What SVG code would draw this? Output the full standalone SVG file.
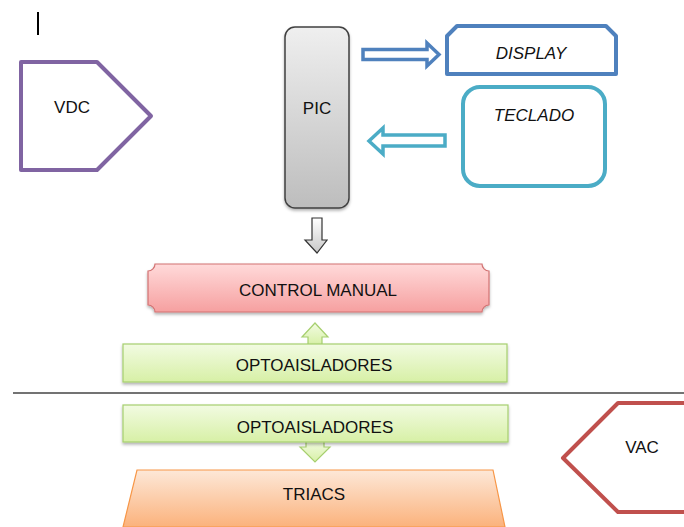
<svg xmlns="http://www.w3.org/2000/svg" width="684" height="527" viewBox="0 0 684 527">
<defs>
<linearGradient id="gPic" x1="0" y1="0" x2="0" y2="1"><stop offset="0" stop-color="#efefef"/><stop offset="1" stop-color="#bdbdbd"/></linearGradient>
<linearGradient id="gGray" x1="0" y1="0" x2="0" y2="1"><stop offset="0" stop-color="#ffffff"/><stop offset="1" stop-color="#c8c8c8"/></linearGradient>
<linearGradient id="gPink" x1="0" y1="0" x2="0" y2="1"><stop offset="0" stop-color="#ffdada"/><stop offset="1" stop-color="#f6a0a0"/></linearGradient>
<linearGradient id="gGreen" x1="0" y1="0" x2="0" y2="1"><stop offset="0" stop-color="#f2fbe2"/><stop offset="1" stop-color="#d7f0a6"/></linearGradient>
<linearGradient id="gOrange" x1="0" y1="0" x2="0" y2="1"><stop offset="0" stop-color="#fde8d8"/><stop offset="1" stop-color="#fbb27c"/></linearGradient>
<filter id="sh" x="-10%" y="-20%" width="120%" height="150%"><feDropShadow dx="0" dy="2" stdDeviation="1.5" flood-color="#000" flood-opacity="0.3"/></filter>
</defs>
<style>
text{font-family:"Liberation Sans",Arial,sans-serif;font-size:17px;fill:#111;text-anchor:middle}
.it{font-style:italic}
.green{fill:url(#gGreen);stroke:#a6cf6e;stroke-width:1.2}
</style>
<rect width="684" height="527" fill="#fff"/>
<line x1="38" y1="12" x2="38" y2="35" stroke="#000" stroke-width="2"/>
<line x1="13" y1="393" x2="684" y2="393" stroke="#444" stroke-width="1.5"/>

<g id="connectors">
<path d="M363,49.5 H427 V43 L439,54.5 L427,66 V59.5 H363 Z" fill="#fff" stroke="#4f81bd" stroke-width="3.5" stroke-linejoin="miter"/>
<path d="M445,135 H383 V128 L369,141 L383,154 V146 H445 Z" fill="#fff" stroke="#4bacc6" stroke-width="3.5"/>
<path d="M312,218 H322 V240 H327 L317,253 L305,240 H312 Z" fill="url(#gGray)" stroke="#333" stroke-width="1.2"/>
<path d="M315,323 L328,337 H322 V345 H308 V337 H302 Z" class="green"/>
<path d="M306,441 H324 V447 H330 L315,462 L300,447 H306 Z" class="green"/>
</g>

<g id="vdc">
<path d="M21,62 H97 L151,116 L97,170 H21 Z" fill="#fff" stroke="#8064a2" stroke-width="4" stroke-linejoin="round"/>
<text x="72" y="113">VDC</text>
</g>

<g id="pic">
<rect x="285" y="27" width="64" height="181" rx="10" fill="url(#gPic)" stroke="#404040" stroke-width="1.5" filter="url(#sh)"/>
<text x="317" y="114">PIC</text>
</g>

<g id="display">
<path d="M457,26 H606 L616,36 V74 H447 V36 Z" fill="#fff" stroke="#4f81bd" stroke-width="4" stroke-linejoin="round"/>
<text class="it" x="531" y="59">DISPLAY</text>
</g>

<g id="teclado">
<rect x="463" y="87" width="142" height="99" rx="17" fill="#fff" stroke="#4bacc6" stroke-width="4"/>
<text class="it" x="534" y="121">TECLADO</text>
</g>

<g id="control">
<path d="M155,264 H482 A7 7 0 0 0 489 271 V305 A7 7 0 0 0 482 312 H155 A7 7 0 0 0 148 305 V271 A7 7 0 0 0 155 264 Z" fill="url(#gPink)" stroke="#d27272" stroke-width="1.2" filter="url(#sh)"/>
<text x="318" y="296">CONTROL MANUAL</text>
</g>

<g id="opto1">
<rect x="123" y="344" width="384" height="38" class="green" filter="url(#sh)"/>
<text x="314" y="371">OPTOAISLADORES</text>
</g>

<g id="opto2">
<rect x="123" y="405" width="385" height="37" class="green" filter="url(#sh)"/>
<text x="315" y="433">OPTOAISLADORES</text>
</g>

<g id="triacs">
<path d="M137,470 H493 L505,527 H123 Z" fill="url(#gOrange)" stroke="#f79646" stroke-width="1.2"/>
<text x="314" y="500">TRIACS</text>
</g>

<g id="vac">
<path d="M690,403 H618 L563,458 L618,512 H690" fill="#fff" stroke="#c0504d" stroke-width="4" stroke-linejoin="round"/>
<text x="642" y="453">VAC</text>
</g>
</svg>
